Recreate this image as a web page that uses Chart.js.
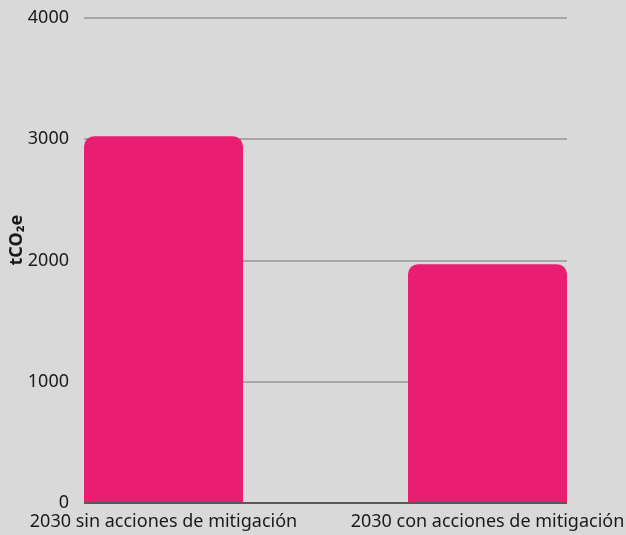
<!DOCTYPE html>
<html>
<head>
<meta charset="utf-8">
<script src="https://cdn.jsdelivr.net/npm/chart.js@4"></script>
<style>
    html, body { margin: 0; padding: 0; background: #d9d9d9; }
    #wrap { width: 626px; height: 535px; }
</style>
</head>
<body>
<div id="wrap"><canvas id="chart" width="626" height="535"></canvas></div>
<script>
// --- Data ---
const categories = ['2030 sin acciones de mitigación', '2030 con acciones de mitigación'];
const emissions = [3025, 1970];
const yTicks = [0, 1000, 2000, 3000, 4000];
const yTitle = 'tCO₂e';

// --- Chart ---
Chart.defaults.font.family = "'Noto Sans', 'Open Sans', sans-serif";
Chart.defaults.font.size = 18;
Chart.defaults.color = '#1a1a1a';

// labels are allowed to hang past the plot, layout padding decides the area
const noOverflow = axis => {
    axis.paddingLeft = 0;
    axis.paddingRight = 0;
    axis.paddingTop = 0;
    axis.paddingBottom = 0;
};

const ctx = document.getElementById('chart').getContext('2d');
new Chart(ctx, {
    type: 'bar',
    data: {
        datasets: [{
            data: emissions.map((v, i) => ({ x: i, y: v })),
            backgroundColor: '#e91e70',
            borderRadius: 10,
            borderSkipped: 'start',
            categoryPercentage: 1,
            barPercentage: 0.4907
        }]
    },
    options: {
        responsive: false,
        animation: false,
        devicePixelRatio: 1,
        layout: { padding: { top: 18, left: 6, right: 59, bottom: 2 } },
        plugins: { legend: { display: false }, tooltip: { enabled: false } },
        scales: {
            x: {
                type: 'linear',
                offset: false,
                min: -0.2454,
                max: 1.2454,
                afterBuildTicks: axis => { axis.ticks = categories.map((c, i) => ({ value: i })); },
                afterFit: axis => { noOverflow(axis); axis.height = 30; },
                ticks: {
                    padding: 8,
                    maxRotation: 0,
                    autoSkip: false,
                    callback: v => categories[v]
                },
                grid: { display: false, drawTicks: false },
                border: { display: false }
            },
            y: {
                min: yTicks[0],
                max: yTicks[yTicks.length - 1],
                afterBuildTicks: axis => { axis.ticks = yTicks.map(v => ({ value: v })); },
                afterFit: axis => { noOverflow(axis); axis.width = 78; },
                ticks: { padding: 15, callback: v => String(v) },
                grid: {
                    drawTicks: false,
                    lineWidth: 2,
                    color: c => c.tick && c.tick.value === 0 ? '#595959' : '#a6a6a6'
                },
                border: { display: false },
                title: {
                    display: true,
                    // leading spaces nudge the title a bit above the axis middle
                    text: '\u2003\u2003 ' + yTitle,
                    font: { weight: 'bold', size: 18 },
                    padding: { top: 0, bottom: 0 }
                }
            }
        }
    }
});
</script>
</body>
</html>
